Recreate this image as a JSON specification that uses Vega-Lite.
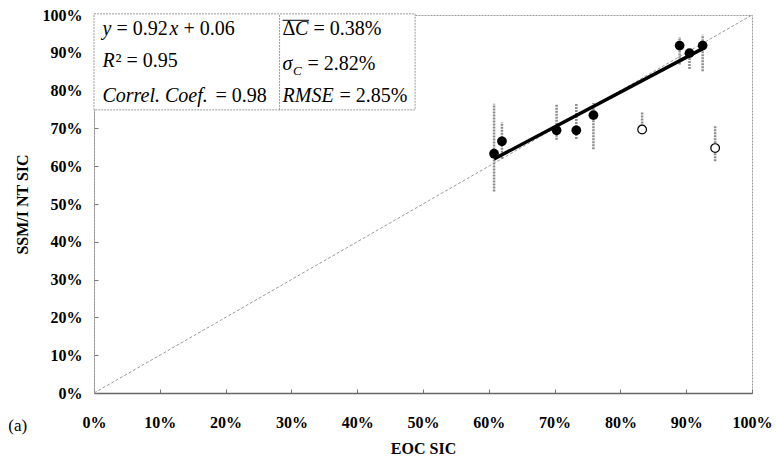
{
  "$schema": "https://vega.github.io/schema/vega-lite/v6.json",
  "width": 658,
  "height": 378,
  "autosize": {"type": "none"},
  "padding": {"left": 94, "top": 15, "right": 24, "bottom": 68},
  "background": "white",
  "config": {
    "view": {"stroke": "#999", "strokeDash": [2, 1], "strokeWidth": 1},
    "axis": {
      "labelFont": "Liberation Serif", "labelFontWeight": "bold", "labelFontSize": 16, "labelColor": "black",
      "titleFont": "Liberation Serif", "titleFontWeight": "bold", "titleFontSize": 16, "titleColor": "black",
      "grid": false, "labelOverlap": false, "labelFlush": false
    },
    "text": {"font": "Liberation Serif"}
  },
  "resolve": {"axis": {"x": "independent", "y": "independent"}},
  "data": {"values": [
    {"eoc": 60.8, "ssmi": 63.3, "lo": 53.3, "hi": 76.5, "type": "in"},
    {"eoc": 62.0, "ssmi": 66.6, "lo": 62.0, "hi": 71.6, "type": "in"},
    {"eoc": 70.3, "ssmi": 69.5, "lo": 67.0, "hi": 76.5, "type": "in"},
    {"eoc": 73.3, "ssmi": 69.5, "lo": 67.2, "hi": 76.5, "type": "in"},
    {"eoc": 75.9, "ssmi": 73.5, "lo": 64.5, "hi": 76.7, "type": "in"},
    {"eoc": 89.0, "ssmi": 91.9, "lo": 86.9, "hi": 94.2, "type": "in"},
    {"eoc": 90.5, "ssmi": 89.9, "lo": 85.7, "hi": 91.3, "type": "in"},
    {"eoc": 92.5, "ssmi": 91.9, "lo": 85.1, "hi": 94.8, "type": "in"},
    {"eoc": 83.3, "ssmi": 69.7, "lo": 69.7, "hi": 74.5, "type": "out"},
    {"eoc": 94.4, "ssmi": 64.8, "lo": 61.3, "hi": 70.7, "type": "out"}
  ]},
  "layer": [
    {
      "transform": [{"filter": "datum.type == 'in'"}],
      "mark": {"type": "point", "shape": "circle", "filled": true, "size": 95, "color": "black", "opacity": 0},
      "encoding": {
        "x": {"field": "eoc", "type": "quantitative",
          "scale": {"domain": [0, 100], "nice": false},
          "axis": {"title": "EOC SIC", "values": [0, 10, 20, 30, 40, 50, 60, 70, 80, 90, 100],
            "labelExpr": "datum.value + '%'", "tickSize": -4, "tickColor": "#777", "labelOverlap": false, "labelFlush": false,
            "labelPadding": 25, "titlePadding": 10, "domainColor": "#666", "domainWidth": 1.5}},
        "y": {"field": "ssmi", "type": "quantitative",
          "scale": {"domain": [0, 100], "nice": false},
          "axis": {"title": "SSM/I NT SIC", "values": [0, 10, 20, 30, 40, 50, 60, 70, 80, 90, 100],
            "labelExpr": "datum.value + '%'", "tickSize": -4, "tickColor": "#777", "labelOverlap": false, "labelFlush": false,
            "labelPadding": 16, "titlePadding": 12, "domainColor": "#999", "domainDash": [2, 1]}}
      }
    },
    {
      "data": {"values": [{}]},
      "mark": {"type": "rect", "fill": "white", "stroke": "#999", "strokeDash": [2, 1], "strokeWidth": 1},
      "encoding": {
        "x": {"datum": 0, "type": "quantitative", "axis": null}, "x2": {"datum": 48.8},
        "y": {"datum": 74.9, "type": "quantitative", "axis": null}, "y2": {"datum": 100.3}
      }
    },
    {
      "data": {"values": [{}]},
      "mark": {"type": "rule", "stroke": "#999", "strokeDash": [2, 1], "strokeWidth": 1},
      "encoding": {
        "x": {"datum": 28.2, "type": "quantitative", "axis": null},
        "y": {"datum": 74.9, "type": "quantitative", "axis": null}, "y2": {"datum": 100.3}
      }
    },
    {
      "data": {"values": [{}]},
      "mark": {"type": "rule", "stroke": "#999", "strokeDash": [3, 2], "strokeWidth": 1},
      "encoding": {
        "x": {"datum": 0, "type": "quantitative", "axis": null}, "x2": {"datum": 100},
        "y": {"datum": 0, "type": "quantitative", "axis": null}, "y2": {"datum": 100}
      }
    },
    {
      "mark": {"type": "rule", "stroke": "#8c8c8c", "strokeWidth": 2.5, "strokeDash": [2, 1]},
      "encoding": {
        "x": {"field": "eoc", "type": "quantitative", "axis": null},
        "y": {"field": "lo", "type": "quantitative", "axis": null},
        "y2": {"field": "hi"}
      }
    },
    {
      "data": {"values": [{"eoc": 60.8, "ssmi": 61.9}, {"eoc": 92.5, "ssmi": 91.1}]},
      "mark": {"type": "line", "color": "black", "strokeWidth": 3.5},
      "encoding": {
        "x": {"field": "eoc", "type": "quantitative", "axis": null},
        "y": {"field": "ssmi", "type": "quantitative", "axis": null}
      }
    },
    {
      "transform": [{"filter": "datum.type == 'in'"}],
      "mark": {"type": "point", "shape": "circle", "filled": true, "size": 95, "color": "black", "opacity": 1},
      "encoding": {
        "x": {"field": "eoc", "type": "quantitative", "axis": null},
        "y": {"field": "ssmi", "type": "quantitative", "axis": null}
      }
    },
    {
      "transform": [{"filter": "datum.type == 'out'"}],
      "mark": {"type": "point", "shape": "circle", "filled": false, "size": 75, "stroke": "black", "strokeWidth": 1.2, "fill": "white", "fillOpacity": 1, "opacity": 1},
      "encoding": {
        "x": {"field": "eoc", "type": "quantitative", "axis": null},
        "y": {"field": "ssmi", "type": "quantitative", "axis": null}
      }
    },
    {
      "data": {"values": [{"t": "y"}]},
      "mark": {"type": "text", "align": "left", "baseline": "alphabetic", "font": "Liberation Serif", "fontSize": 20, "fontStyle": "italic", "color": "black"},
      "encoding": {"x": {"datum": 1.28, "type": "quantitative", "axis": null}, "y": {"datum": 94.8, "type": "quantitative", "axis": null}, "text": {"field": "t"}}
    },
    {
      "data": {"values": [{"t": "= 0.92"}]},
      "mark": {"type": "text", "align": "left", "baseline": "alphabetic", "font": "Liberation Serif", "fontSize": 20, "dx": 14, "color": "black"},
      "encoding": {"x": {"datum": 1.28, "type": "quantitative", "axis": null}, "y": {"datum": 94.8, "type": "quantitative", "axis": null}, "text": {"field": "t"}}
    },
    {
      "data": {"values": [{"t": "x"}]},
      "mark": {"type": "text", "align": "left", "baseline": "alphabetic", "font": "Liberation Serif", "fontSize": 20, "fontStyle": "italic", "dx": 67, "color": "black"},
      "encoding": {"x": {"datum": 1.28, "type": "quantitative", "axis": null}, "y": {"datum": 94.8, "type": "quantitative", "axis": null}, "text": {"field": "t"}}
    },
    {
      "data": {"values": [{"t": "+ 0.06"}]},
      "mark": {"type": "text", "align": "left", "baseline": "alphabetic", "font": "Liberation Serif", "fontSize": 20, "dx": 81, "color": "black"},
      "encoding": {"x": {"datum": 1.28, "type": "quantitative", "axis": null}, "y": {"datum": 94.8, "type": "quantitative", "axis": null}, "text": {"field": "t"}}
    },
    {
      "data": {"values": [{"t": "R"}]},
      "mark": {"type": "text", "align": "left", "baseline": "alphabetic", "font": "Liberation Serif", "fontSize": 20, "fontStyle": "italic", "color": "black"},
      "encoding": {"x": {"datum": 1.28, "type": "quantitative", "axis": null}, "y": {"datum": 86.3, "type": "quantitative", "axis": null}, "text": {"field": "t"}}
    },
    {
      "data": {"values": [{"t": "² = 0.95"}]},
      "mark": {"type": "text", "align": "left", "baseline": "alphabetic", "font": "Liberation Serif", "fontSize": 20, "dx": 13, "color": "black"},
      "encoding": {"x": {"datum": 1.28, "type": "quantitative", "axis": null}, "y": {"datum": 86.3, "type": "quantitative", "axis": null}, "text": {"field": "t"}}
    },
    {
      "data": {"values": [{"t": "Correl. Coef."}]},
      "mark": {"type": "text", "align": "left", "baseline": "alphabetic", "font": "Liberation Serif", "fontSize": 20, "fontStyle": "italic", "color": "black"},
      "encoding": {"x": {"datum": 1.28, "type": "quantitative", "axis": null}, "y": {"datum": 77.1, "type": "quantitative", "axis": null}, "text": {"field": "t"}}
    },
    {
      "data": {"values": [{"t": "= 0.98"}]},
      "mark": {"type": "text", "align": "left", "baseline": "alphabetic", "font": "Liberation Serif", "fontSize": 20, "dx": 113, "color": "black"},
      "encoding": {"x": {"datum": 1.28, "type": "quantitative", "axis": null}, "y": {"datum": 77.1, "type": "quantitative", "axis": null}, "text": {"field": "t"}}
    },
    {
      "data": {"values": [{"t": "Δ"}]},
      "mark": {"type": "text", "align": "left", "baseline": "alphabetic", "font": "Liberation Serif", "fontSize": 20, "color": "black"},
      "encoding": {"x": {"datum": 28.66, "type": "quantitative", "axis": null}, "y": {"datum": 94.8, "type": "quantitative", "axis": null}, "text": {"field": "t"}}
    },
    {
      "data": {"values": [{"t": "C"}]},
      "mark": {"type": "text", "align": "left", "baseline": "alphabetic", "font": "Liberation Serif", "fontSize": 20, "fontStyle": "italic", "dx": 12.5, "color": "black"},
      "encoding": {"x": {"datum": 28.66, "type": "quantitative", "axis": null}, "y": {"datum": 94.8, "type": "quantitative", "axis": null}, "text": {"field": "t"}}
    },
    {
      "data": {"values": [{"t": "= 0.38%"}]},
      "mark": {"type": "text", "align": "left", "baseline": "alphabetic", "font": "Liberation Serif", "fontSize": 20, "dx": 31, "color": "black"},
      "encoding": {"x": {"datum": 28.66, "type": "quantitative", "axis": null}, "y": {"datum": 94.8, "type": "quantitative", "axis": null}, "text": {"field": "t"}}
    },
    {
      "data": {"values": [{}]},
      "mark": {"type": "rule", "stroke": "black", "strokeWidth": 1},
      "encoding": {
        "x": {"datum": 28.66, "type": "quantitative", "axis": null}, "x2": {"datum": 32.7},
        "y": {"datum": 98.6, "type": "quantitative", "axis": null}
      }
    },
    {
      "data": {"values": [{"t": "σ"}]},
      "mark": {"type": "text", "align": "left", "baseline": "alphabetic", "font": "Liberation Serif", "fontSize": 20, "fontStyle": "italic", "color": "black"},
      "encoding": {"x": {"datum": 28.66, "type": "quantitative", "axis": null}, "y": {"datum": 85.4, "type": "quantitative", "axis": null}, "text": {"field": "t"}}
    },
    {
      "data": {"values": [{"t": "C"}]},
      "mark": {"type": "text", "align": "left", "baseline": "alphabetic", "font": "Liberation Serif", "fontSize": 13, "fontStyle": "italic", "dx": 10.5, "dy": 5, "color": "black"},
      "encoding": {"x": {"datum": 28.66, "type": "quantitative", "axis": null}, "y": {"datum": 85.4, "type": "quantitative", "axis": null}, "text": {"field": "t"}}
    },
    {
      "data": {"values": [{"t": "= 2.82%"}]},
      "mark": {"type": "text", "align": "left", "baseline": "alphabetic", "font": "Liberation Serif", "fontSize": 20, "dx": 25, "color": "black"},
      "encoding": {"x": {"datum": 28.66, "type": "quantitative", "axis": null}, "y": {"datum": 85.4, "type": "quantitative", "axis": null}, "text": {"field": "t"}}
    },
    {
      "data": {"values": [{"t": "RMSE"}]},
      "mark": {"type": "text", "align": "left", "baseline": "alphabetic", "font": "Liberation Serif", "fontSize": 20, "fontStyle": "italic", "color": "black"},
      "encoding": {"x": {"datum": 28.66, "type": "quantitative", "axis": null}, "y": {"datum": 77.1, "type": "quantitative", "axis": null}, "text": {"field": "t"}}
    },
    {
      "data": {"values": [{"t": "= 2.85%"}]},
      "mark": {"type": "text", "align": "left", "baseline": "alphabetic", "font": "Liberation Serif", "fontSize": 20, "dx": 57, "color": "black"},
      "encoding": {"x": {"datum": 28.66, "type": "quantitative", "axis": null}, "y": {"datum": 77.1, "type": "quantitative", "axis": null}, "text": {"field": "t"}}
    },
    {
      "data": {"values": [{"t": "(a)"}]},
      "mark": {"type": "text", "align": "center", "baseline": "middle", "font": "Liberation Serif", "fontSize": 17, "color": "black"},
      "encoding": {"x": {"datum": -11.6, "type": "quantitative", "axis": null}, "y": {"datum": -8.6, "type": "quantitative", "axis": null}, "text": {"field": "t"}}
    }
  ]
}
